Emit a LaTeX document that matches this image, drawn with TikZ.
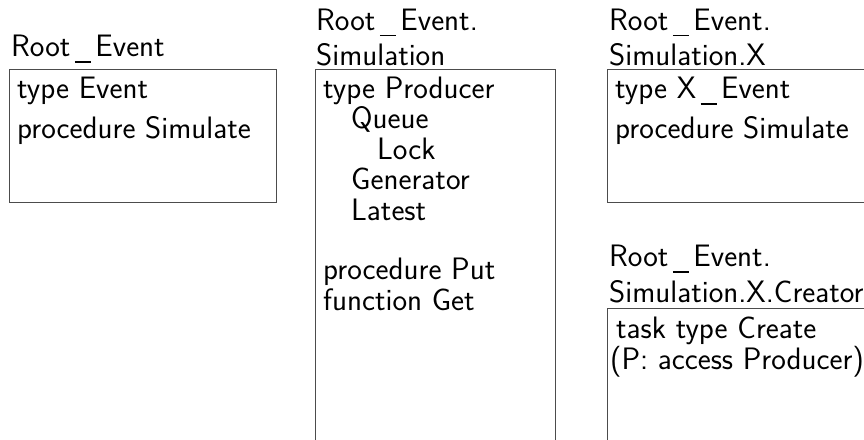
\documentclass[tikz,border=0pt]{standalone}
\newcommand\usc{\kern4.5pt\rule[-6.5pt]{16pt}{1.4pt}\kern4.5pt}
\begin{document}
\begin{tikzpicture}[x=1pt,y=-1pt,
  box/.style={draw=black!70,line width=1.3pt,rectangle,inner sep=0pt,anchor=north west},
  txt/.style={inner sep=0pt,anchor=base west,font=\fontsize{31}{36}\sffamily\selectfont}]
\clip (0,0) rectangle (864,439);
% box 1
\node[txt] (l1) at (11,56) {Root\usc Event};
\node[box,minimum width=267pt,minimum height=133pt] (b1) at (9,69) {};
\node[txt] (b1a) at (17,98) {type Event};
\node[txt] (b1b) at (17,138) {procedure Simulate};
% box 2
\node[txt] (l2a) at (316,30) {Root\usc Event.};
\node[txt] (l2b) at (316,65) {Simulation};
\node[box,minimum width=240pt,minimum height=400pt] (b2) at (315,69) {};
\node[txt] (b2a) at (323,98) {type Producer};
\node[txt] (b2b) at (351,128.5) {Queue};
\node[txt] (b2c) at (377,159) {Lock};
\node[txt] (b2d) at (351,189.5) {Generator};
\node[txt] (b2e) at (351,220) {Latest};
\node[txt] (b2f) at (323,279) {procedure Put};
\node[txt] (b2g) at (323,310) {function Get};
% box 3
\node[txt] (l3a) at (609,30) {Root\usc Event.};
\node[txt] (l3b) at (609,65) {Simulation.X};
\node[box,minimum width=267pt,minimum height=133pt] (b3) at (607,69) {};
\node[txt] (b3a) at (615,98) {type X\usc Event};
\node[txt] (b3b) at (615,138) {procedure Simulate};
% box 4
\node[txt] (l4a) at (609,266) {Root\usc Event.};
\node[txt] (l4b) at (609,302) {Simulation.X.Creator};
\node[box,minimum width=267pt,minimum height=200pt] (b4) at (607,308) {};
\node[txt] (b4a) at (616,338) {task type Create};
\node[txt] (b4b) at (610,369) {(P: access Producer)};
\end{tikzpicture}
\end{document}
